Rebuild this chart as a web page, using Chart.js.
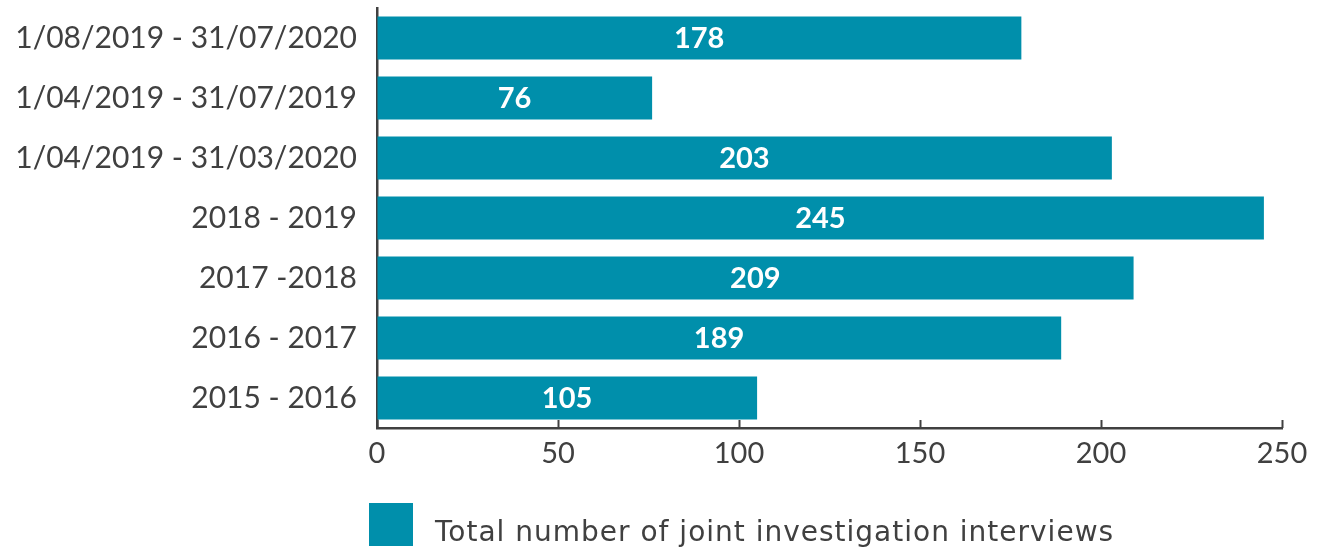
<!DOCTYPE html>
<html>
<head>
<meta charset="utf-8">
<script src="https://cdn.jsdelivr.net/npm/chart.js@4/dist/chart.umd.min.js"></script>
<style>
  html, body { margin: 0; padding: 0; background: #fff; }
  #wrap { width: 1323px; height: 554px; position: relative; }
</style>
</head>
<body>
<div id="wrap"><canvas id="c"></canvas></div>
<script>
const periods = [
  '1/08/2019 - 31/07/2020',
  '1/04/2019 - 31/07/2019',
  '1/04/2019 - 31/03/2020',
  '2018 - 2019',
  '2017 -2018',
  '2016 - 2017',
  '2015 - 2016'
];
const interviews = [178, 76, 203, 245, 209, 189, 105];
const seriesName = 'Total number of joint investigation interviews';

const BAR = '#008fab';
const TXT = '#404040';
const FONT = 'Lato, "DejaVu Sans", sans-serif';
const FONT_LEYENDA = '"DejaVu Sans", sans-serif';

// valores en blanco dentro de cada barra
const etiquetas = {
  id: 'etiquetas',
  afterDatasetsDraw(chart) {
    const ctx = chart.ctx;
    const meta = chart.getDatasetMeta(0);
    ctx.save();
    ctx.fillStyle = '#fff';
    ctx.font = 'bold 29px ' + FONT;
    ctx.textAlign = 'center';
    ctx.textBaseline = 'middle';
    meta.data.forEach((bar, i) => {
      const xs = chart.scales.x.getPixelForValue(0);
      ctx.fillText(String(interviews[i]), (xs + bar.x) / 2, bar.y + 1);
    });
    ctx.restore();
  }
};

// marcas del eje X hacia dentro + leyenda abajo
const extras = {
  id: 'extras',
  afterDraw(chart) {
    const ctx = chart.ctx;
    const x = chart.scales.x;
    const bottom = chart.chartArea.bottom;
    ctx.save();
    ctx.strokeStyle = TXT;
    ctx.lineWidth = 2;
    x.ticks.forEach(t => {
      const px = Math.round(x.getPixelForValue(t.value)) + 0.5;
      ctx.beginPath();
      ctx.moveTo(px, bottom);
      ctx.lineTo(px, bottom - 8);
      ctx.stroke();
    });
    ctx.fillStyle = BAR;
    ctx.fillRect(369, 503, 44, 43);
    ctx.fillStyle = TXT;
    ctx.font = '28px ' + FONT_LEYENDA;
    ctx.letterSpacing = '1px';
    ctx.textBaseline = 'middle';
    ctx.fillText(chart.data.datasets[0].label, 435, 534);
    ctx.restore();
  }
};

new Chart(document.getElementById('c'), {
  type: 'bar',
  data: {
    labels: periods,
    datasets: [{
      label: seriesName,
      data: interviews,
      backgroundColor: BAR,
      borderWidth: 0,
      barPercentage: 0.72,
      categoryPercentage: 1
    }]
  },
  options: {
    indexAxis: 'y',
    responsive: true,
    maintainAspectRatio: false,
    animation: false,
    layout: { padding: { top: 8, right: 41, left: 0, bottom: 0 } },
    plugins: {
      legend: { display: false },
      tooltip: { enabled: false }
    },
    scales: {
      x: {
        min: 0,
        max: 250,
        ticks: { stepSize: 50, color: TXT, font: { size: 29, family: FONT }, padding: 8 },
        grid: { drawOnChartArea: false, drawTicks: false },
        border: { color: TXT, width: 2.5 },
        afterFit(s) { s.height = 126; s.paddingLeft = 0; s.paddingRight = 0; }
      },
      y: {
        ticks: { color: TXT, font: { size: 30, family: FONT }, padding: 20 },
        grid: { drawOnChartArea: false, drawTicks: false },
        border: { color: TXT, width: 2.5 },
        afterFit(s) { s.width = 377; s.paddingTop = 0; s.paddingBottom = 0; }
      }
    }
  },
  plugins: [etiquetas, extras]
});
</script>
</body>
</html>
